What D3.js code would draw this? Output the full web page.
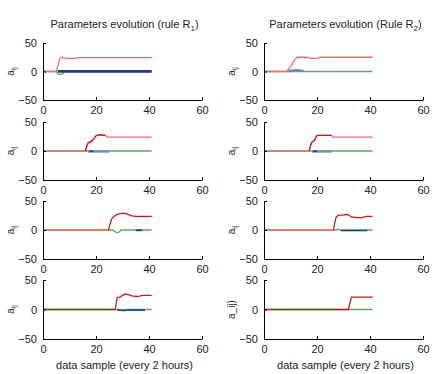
<!DOCTYPE html>
<html><head><meta charset="utf-8">
<script src="https://cdn.jsdelivr.net/npm/d3@7"></script>
<style>body{margin:0;background:#fff}svg{display:block;font-family:"Liberation Sans",Arial,sans-serif}</style>
</head><body><svg id="c" width="435" height="374"></svg>
<script>
// ---- data ----
const xTicks = [0, 20, 40, 60];
const yTicks = [-50, 0, 50];
const titles = ["Parameters evolution (rule R", "Parameters evolution (Rule R"];
const titleSubs = ["1", "2"];
const xLabel = "data sample (every 2 hours)";

// panel L1
const L1_red = [[0,0],[5,0],[5.5,8],[6.3,22],[7,25],[8,24],[9.5,22.5],[11.5,22.5],[13,24.5],[41,24.5]];
const L1_dark = [];
const L1_green = [[0,0],[5,0],[5.5,-4],[6.5,-5],[7.5,-4],[8,0],[41,0]];
const L1_blue = [];
const L1_navy = [[5.5,0.3],[41,0.3]];
// panel R1
const R1_red = [[0,0],[8.5,0],[10,8],[11.5,20],[12.5,25],[16.5,25],[17.5,23],[20,23],[21,25],[41,25]];
const R1_dark = [];
const R1_green = [[0,0],[41,0]];
const R1_blue = [[9,0],[10,1.5],[12,2.5],[14,2],[15,0]];
const R1_navy = [];
// panel L2
const L2_red = [[0,0],[16,0],[16.5,8],[17,14],[18,16],[19,20],[20,26],[21,28],[23.5,27],[24,24],[41,24]];
const L2_dark = [[16,0],[16.5,8],[17,14],[18,16],[19,20],[20,26],[21,28],[23.5,27]];
const L2_green = [[0,0],[41,0]];
const L2_blue = [[17,-1],[25,-1]];
const L2_navy = [[17.5,-0.5],[19,-0.5]];
// panel R2
const R2_red = [[0,0],[17,0],[17.5,8],[18,15],[19,18],[19.8,26],[20.5,27],[25.5,27],[26,24],[41,24]];
const R2_dark = [[17,0],[17.5,8],[18,15],[19,18],[19.8,26],[20.5,27],[25.5,27]];
const R2_green = [[0,0],[41,0]];
const R2_blue = [[18,-1],[25.5,-1]];
const R2_navy = [[18.5,-0.5],[20,-0.5]];
// panel L3
const L3_red = [[0,0],[24.7,0]];
const L3_dark = [[24.7,0],[25.3,10],[26,20],[27,24],[28,27],[29.5,28.5],[31,28.5],[32,27],[33.5,24.5],[35,23.5],[41,23.5]];
const L3_green = [[0,0],[26.5,0],[27,-3],[28,-4.5],[29,-3],[29.3,0],[41,0]];
const L3_blue = [];
const L3_navy = [[35,-0.5],[37.5,-0.5]];
// panel R3
const R3_red = [[0,0],[26.2,0]];
const R3_dark = [[26.2,0],[26.6,10],[27.2,22],[28,25.5],[30,25.5],[31.2,27],[32,26],[33,22.5],[35,21.5],[37,21.5],[38.5,23.5],[41,23.5]];
const R3_green = [[0,0],[27.5,0],[28,2],[28.5,0],[41,0]];
const R3_blue = [];
const R3_navy = [[29,-1],[39,-1]];
// panel L4
const L4_red = [];
const L4_dark = [[0,0],[27.2,0],[27.6,10],[28,20],[29,21],[30,24],[31,26.5],[32,25.5],[33.5,23],[35.5,22],[36.5,22.5],[37.5,24],[39,24],[41,24]];
const L4_green = [[0,0],[29,0],[30,-2.5],[31,-2],[32,0],[41,0]];
const L4_blue = [];
const L4_navy = [[28,-1],[38.5,-1]];
// panel R4
const R4_red = [];
const R4_dark = [[0,0],[31.8,0],[33,21],[41,21]];
const R4_green = [[0,0],[41,0]];
const R4_blue = [];
const R4_navy = [];

const panels = [
  {col:0,row:0,red:L1_red,dark:L1_dark,green:L1_green,blue:L1_blue,navy:L1_navy,ylab:"aij",nw:2.6},
  {col:1,row:0,red:R1_red,dark:R1_dark,green:R1_green,blue:R1_blue,navy:R1_navy,ylab:"aij",nw:1.6},
  {col:0,row:1,red:L2_red,dark:L2_dark,green:L2_green,blue:L2_blue,navy:L2_navy,ylab:"aij",nw:1.6},
  {col:1,row:1,red:R2_red,dark:R2_dark,green:R2_green,blue:R2_blue,navy:R2_navy,ylab:"aij",nw:1.6},
  {col:0,row:2,red:L3_red,dark:L3_dark,green:L3_green,blue:L3_blue,navy:L3_navy,ylab:"aij",nw:1.8},
  {col:1,row:2,red:R3_red,dark:R3_dark,green:R3_green,blue:R3_blue,navy:R3_navy,ylab:"aij",nw:1.4},
  {col:0,row:3,red:L4_red,dark:L4_dark,green:L4_green,blue:L4_blue,navy:L4_navy,ylab:"aij",nw:1.6},
  {col:1,row:3,red:R4_red,dark:R4_dark,green:R4_green,blue:R4_blue,navy:R4_navy,ylab:"a_ij)",nw:1.6}
];

// ---- layout ----
const colX = [[43,202],[264,423]];
const rowY = [[43,100],[122,180],[201,259],[280,339]];
const svg = d3.select("#c");
const txt = "#222";

panels.forEach(p => {
  const x = d3.scaleLinear().domain([0,60]).range(colX[p.col]);
  const y = d3.scaleLinear().domain([-50,50]).range([rowY[p.row][1], rowY[p.row][0]]);
  const g = svg.append("g");
  const line = d3.line().x(d=>x(d[0])).y(d=>y(d[1]));
  const draw = (data,color,w) => { if (data.length) g.append("path").datum(data).attr("d",line).attr("fill","none").attr("stroke",color).attr("stroke-width",w).attr("stroke-linejoin","round"); };
  draw(p.green,"#5fa85f",1.3);
  draw(p.blue,"#6a8ccc",2.2);
  draw(p.navy,"#1a3f80",p.nw);
  draw(p.red,"#ee6e6e",1.3);
  draw(p.dark,"#c81a1a",1.3);

  const xa = g.append("g").attr("transform",`translate(0,${rowY[p.row][1]})`)
    .call(d3.axisBottom(x).tickValues(xTicks).tickSizeInner(-3).tickSizeOuter(0).tickPadding(6));
  const ya = g.append("g").attr("transform",`translate(${colX[p.col][0]},0)`)
    .call(d3.axisLeft(y).tickValues(yTicks).tickSizeInner(-3).tickSizeOuter(0).tickPadding(6));
  [xa,ya].forEach(a=>{
    a.select(".domain").attr("stroke","#000");
    a.selectAll(".tick line").attr("stroke","#000");
    a.selectAll("text").attr("fill",txt).attr("font-size",11).attr("font-family","Liberation Sans, Arial, sans-serif");
  });

  const yl = g.append("text")
    .attr("transform",`translate(${colX[p.col][0]-29},${y(0)}) rotate(-90)`)
    .attr("text-anchor","middle").attr("fill",txt).attr("font-size",10);
  if (p.ylab === "aij") {
    yl.append("tspan").text("a");
    yl.append("tspan").attr("font-size",7).attr("dy",2).text("ij");
  } else {
    yl.text(p.ylab);
  }
});

[0,1].forEach(c => {
  const cx = (colX[c][0]+colX[c][1])/2 + 2;
  const t = svg.append("text").attr("x",cx).attr("y",28).attr("text-anchor","middle")
    .attr("fill",txt).attr("font-size",11);
  t.append("tspan").text(titles[c]);
  t.append("tspan").attr("font-size",8).attr("dy",3).text(titleSubs[c]);
  t.append("tspan").attr("dy",-3).text(")");
  svg.append("text").attr("x",cx).attr("y",369).attr("text-anchor","middle")
    .attr("fill",txt).attr("font-size",11).text(xLabel);
});
</script></body></html>
